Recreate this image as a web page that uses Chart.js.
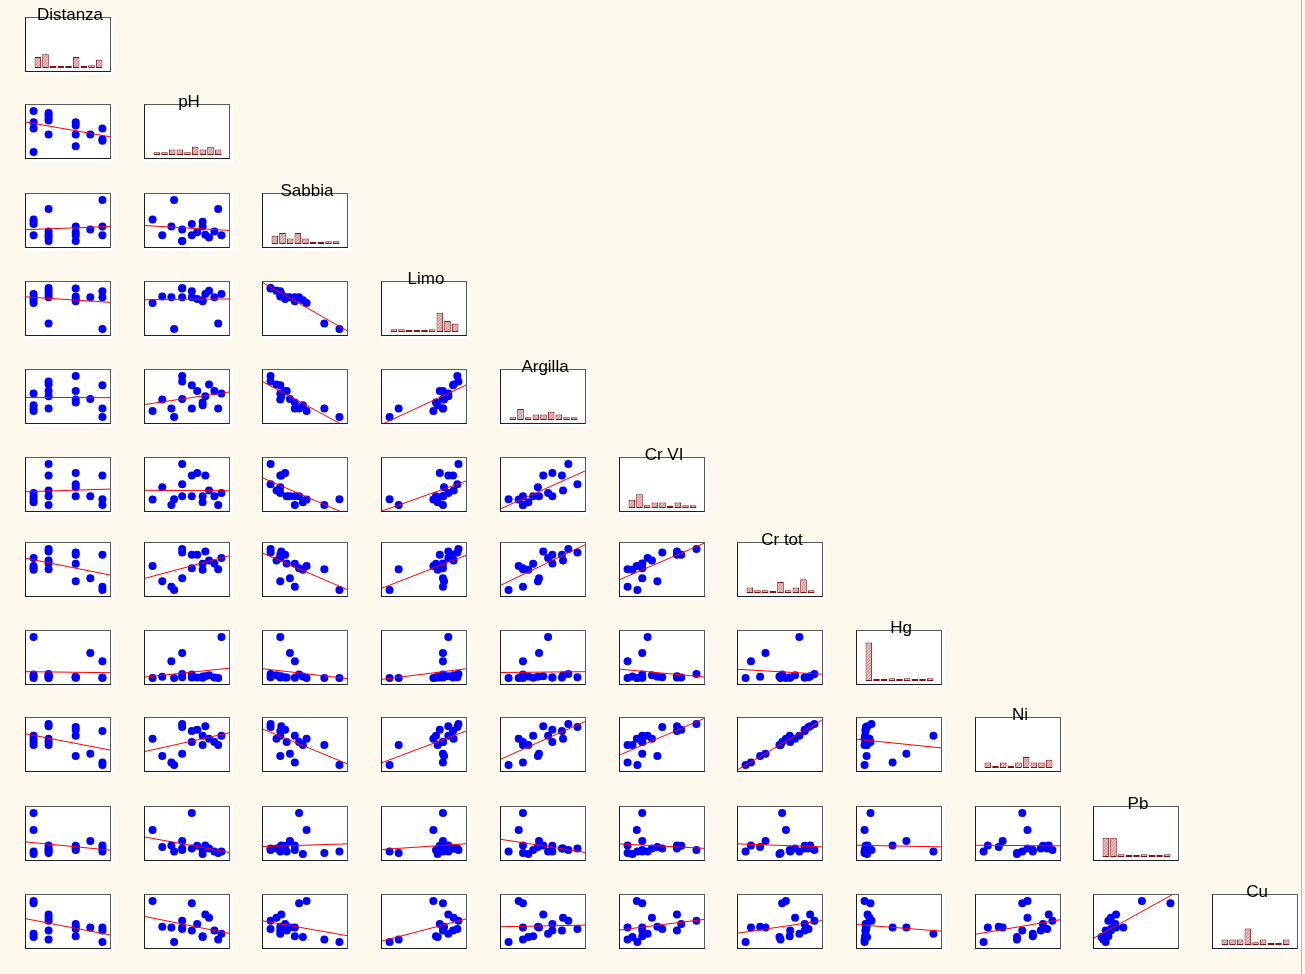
<!DOCTYPE html>
<html>
<head>
<meta charset="utf-8">
<script src="https://cdn.jsdelivr.net/npm/chart.js@4/dist/chart.umd.min.js"></script>
<style>
  body { margin: 0; background: #fdf8ec; width: 1305px; height: 974px; overflow: hidden; position: relative;
         font-family: "Liberation Sans", Arial, sans-serif; }
  .pad { position: absolute; background: #fff; }
  .box { position: absolute; box-sizing: border-box; border: 1px solid #5a5a5a;
         border-left-color: #1e1e1e; border-bottom-color: #1e1e1e; }
  .box canvas { display: block; }
  .title { position: absolute; font-size: 17px; line-height: 17px; color: #000; white-space: nowrap;
           transform: translateX(-50%); }
  #edge { position: absolute; left: 1301px; top: 0; width: 1px; height: 974px; background: #b4b4b4; }
</style>
</head>
<body>
<div id="edge"></div>
<script>
// variables of the matrix (min-max scaled 0..100)
const names = ["Distanza", "pH", "Sabbia", "Limo", "Argilla", "Cr VI", "Cr tot", "Hg", "Ni", "Pb", "Cu"];

const distanza = [0, 0, 0, 0, 21.8, 21.8, 21.8, 21.8, 21.8, 61.2, 61.2, 61.2, 61.2, 82.4, 100, 100, 100];
const pH = [100, 72.7, 0, 57, 43, 82, 76.6, 89.8, 95.3, 43, 64.8, 14.1, 72.7, 43, 57, 31.3, 27.3];
const sabbia = [14.1, 46.9, 52.3, 41.4, 0, 8.6, 15.6, 23.4, 78.1, 0, 21.1, 14.1, 35.2, 28.1, 14.1, 100, 35.2];
const limo = [85.3, 69.8, 63.6, 77.5, 100, 93, 85.3, 77.5, 13.2, 98.4, 72.9, 79.1, 67.4, 77.5, 92.2, 0, 77.5];
const argilla = [57.4, 28.7, 14.7, 20.9, 86.8, 79.1, 50.4, 63.6, 20.9, 100, 63.6, 42.6, 35.7, 44.2, 77.5, 0, 20.9];
const crVI = [29.1, 7.1, 13.4, 21.3, 100, 35.4, 71.7, 21.3, 0, 50.4, 78, 43.3, 21.3, 21.3, 71.7, 14.2, 0];
const crTot = [78.1, 49.2, 58.6, 53.1, 100, 71.9, 93.8, 64.8, 50.8, 91.4, 85.9, 21.1, 64.1, 28.9, 85.9, 0, 7.8];
const hg = [100, 3.6, 0, 8.6, 10, 7.1, 4.3, 1.4, 0, 2, 1.4, 3, 0.7, 60.7, 1.4, 0, 40.7];
const ni = [71.5, 48.5, 63.8, 56.2, 100, 63.8, 94.6, 56.2, 48.5, 92.3, 86.2, 22, 71.5, 27.7, 83.1, 0, 6.2];
const pb = [6, 0, 58.6, 100, 9.8, 13.5, 21, 6, 2.3, 13.5, 20, 17.3, 9.8, 31.6, 13.5, 6, 21];
const cu = [20.3, 12.5, 100, 94.5, 51.6, 59.4, 67.2, 28.1, 6.25, 32, 43.75, 37.5, 14.1, 35.2, 28.1, 0, 35.2];

// histogram counts on the diagonal (9 bins each)
const histDistanza = [4, 5, 0, 0, 0, 4, 0, 1, 3];
const histPH = [1, 1, 2, 2, 1, 3, 2, 3, 2];
const histSabbia = [3, 4, 2, 4, 2, 0, 0, 1, 1];
const histLimo = [1, 1, 0, 0, 0, 1, 7, 4, 3];
const histArgilla = [1, 4, 1, 2, 2, 3, 2, 1, 1];
const histCrVI = [3, 5, 1, 2, 2, 0, 2, 1, 1];
const histCrTot = [2, 1, 1, 0, 4, 1, 2, 5, 1];
const histHg = [14, 0, 0, 1, 0, 1, 0, 0, 1];
const histNi = [2, 0, 2, 0, 2, 4, 2, 2, 3];
const histPb = [7, 7, 1, 0, 0, 1, 0, 0, 1];
const histCu = [2, 2, 2, 6, 1, 2, 0, 0, 2];

const columns = [distanza, pH, sabbia, limo, argilla, crVI, crTot, hg, ni, pb, cu];
const hists = [histDistanza, histPH, histSabbia, histLimo, histArgilla, histCrVI, histCrTot,
               histHg, histNi, histPb, histCu];

// layout
const rowTops = [17, 104, 193, 281, 369, 457, 542, 630, 717, 806, 894];
const colLeft = (j) => Math.round(25 + j * 118.7);
const BOX_W = 86, BOX_H = 55;

// hatched fill for the histogram bars
const pc = document.createElement("canvas");
pc.width = 3; pc.height = 3;
const pg = pc.getContext("2d");
pg.fillStyle = "#e4bcbc"; pg.fillRect(0, 0, 3, 3);
pg.fillStyle = "#c99393";
pg.fillRect(0, 2, 1, 1); pg.fillRect(1, 1, 1, 1); pg.fillRect(2, 0, 1, 1);
const hatch = pg.createPattern(pc, "repeat");

const makePanel = (i, j) => {
  const left = colLeft(j), top = rowTops[i];
  const pad = document.createElement("div");
  pad.className = "pad";
  pad.style.cssText = `left:${left}px;top:${top}px;width:${BOX_W + 3}px;height:${BOX_H + 3}px`;
  document.body.appendChild(pad);
  const box = document.createElement("div");
  box.className = "box";
  box.style.cssText = `left:${left}px;top:${top}px;width:${BOX_W}px;height:${BOX_H}px`;
  const cv = document.createElement("canvas");
  cv.width = BOX_W - 2;
  cv.height = BOX_H - 2;
  box.appendChild(cv);
  document.body.appendChild(box);
  return cv;
};

const baseOptions = {
  responsive: false,
  animation: false,
  events: [],
  devicePixelRatio: 1,
  layout: { padding: 0, autoPadding: false },
  plugins: { legend: { display: false }, tooltip: { enabled: false } },
};

const fitLine = (xs, ys) => {
  const n = xs.length;
  const mx = xs.reduce((a, b) => a + b, 0) / n;
  const my = ys.reduce((a, b) => a + b, 0) / n;
  let sxy = 0, sxx = 0;
  for (let k = 0; k < n; k++) {
    sxy += (xs[k] - mx) * (ys[k] - my);
    sxx += (xs[k] - mx) * (xs[k] - mx);
  }
  const b = sxx ? sxy / sxx : 0;
  return { a: my - b * mx, b };
};

const X_MIN = -11, X_MAX = 111, Y_MIN = -14.5, Y_MAX = 114.5;

for (let i = 0; i < names.length; i++) {
  for (let j = 0; j <= i; j++) {
    const cv = makePanel(i, j);
    if (i === j) {
      new Chart(cv, {
        type: "bar",
        data: {
          labels: hists[i].map((_, k) => String(k + 1)),
          datasets: [{
            data: hists[i],
            backgroundColor: hatch,
            borderColor: "#7d1414",
            borderWidth: 1,
            borderSkipped: false,
            barPercentage: 0.86,
            categoryPercentage: 1,
            minBarLength: 2,
          }],
        },
        options: {
          ...baseOptions,
          layout: { padding: { left: 8, right: 7, top: 0, bottom: 3 }, autoPadding: false },
          scales: {
            x: { display: false },
            y: { display: false, min: 0, max: 18.2 },
          },
        },
      });
      const t = document.createElement("div");
      t.className = "title";
      t.textContent = names[i];
      t.style.left = colLeft(j) + BOX_W / 2 + 2 + "px";
      t.style.top = rowTops[i] - 11 + "px";
      document.body.appendChild(t);
    } else {
      const xs = columns[j], ys = columns[i];
      const fit = fitLine(xs, ys);
      new Chart(cv, {
        type: "scatter",
        data: {
          datasets: [
            {
              type: "line",
              data: [
                { x: X_MIN, y: fit.a + fit.b * X_MIN },
                { x: X_MAX, y: fit.a + fit.b * X_MAX },
              ],
              borderColor: "#ff0000",
              borderWidth: 1,
              pointRadius: 0,
              fill: false,
            },
            {
              data: xs.map((x, k) => ({ x, y: ys[k] })),
              backgroundColor: "#0000ff",
              borderWidth: 0,
              pointRadius: 4,
            },
          ],
        },
        options: {
          ...baseOptions,
          scales: {
            x: { type: "linear", display: false, min: X_MIN, max: X_MAX },
            y: { type: "linear", display: false, min: Y_MIN, max: Y_MAX },
          },
        },
      });
    }
  }
}
</script>
</body>
</html>
